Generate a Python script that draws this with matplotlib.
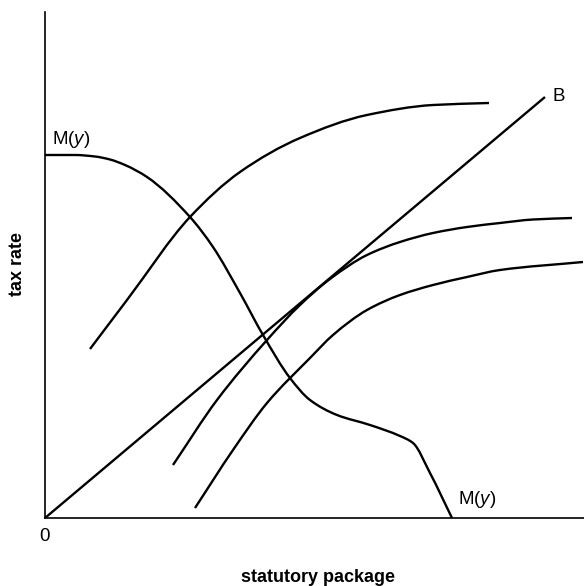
import matplotlib.pyplot as plt
from matplotlib.path import Path
from matplotlib.patches import PathPatch

# origin at the corner of the axes (units ~ pixels)
m_x = [0, 30, 50, 65, 80, 102, 145, 168, 195, 218, 245, 265, 292, 325, 355, 368, 385, 407]
m_y = [363, 363, 361.5, 358.5, 353, 341, 301, 271, 225, 183, 140, 118, 103, 93, 82, 75, 45, 0]

top_x = [45, 82, 145, 195, 255, 322, 388, 444]
top_y = [169, 218, 301, 346, 380, 403, 413, 415]

b_x = [0, 500]
b_y = [0, 421]

mid_x = [128, 172, 222, 255, 285, 322, 355, 388, 422, 455, 488, 527]
mid_y = [53, 118, 178, 213, 239, 263, 276, 285, 291, 295, 298.5, 300]

low_x = [150, 188, 222, 265, 288, 322, 355, 388, 422, 455, 538]
low_y = [10, 68, 115, 160, 183, 208, 223, 233, 241, 248, 256]


def smooth_path(xs, ys):
    # cubic bezier pieces through the read points, monotone (pchip style) slopes
    n = len(xs)
    h = [xs[i + 1] - xs[i] for i in range(n - 1)]
    d = [(ys[i + 1] - ys[i]) / h[i] for i in range(n - 1)]
    m = [d[0]]
    for i in range(1, n - 1):
        if d[i - 1] * d[i] <= 0:
            m.append(0.0)
        else:
            w1 = 2 * h[i] + h[i - 1]
            w2 = h[i] + 2 * h[i - 1]
            m.append((w1 + w2) / (w1 / d[i - 1] + w2 / d[i]))
    m.append(d[-1])
    verts = [(xs[0], ys[0])]
    codes = [Path.MOVETO]
    for i in range(n - 1):
        verts.append((xs[i] + h[i] / 3, ys[i] + m[i] * h[i] / 3))
        verts.append((xs[i + 1] - h[i] / 3, ys[i + 1] - m[i + 1] * h[i] / 3))
        verts.append((xs[i + 1], ys[i + 1]))
        codes += [Path.CURVE4] * 3
    return Path(verts, codes)


fig = plt.figure(figsize=(5.84, 5.86), dpi=100)
ax = fig.add_axes([45 / 584, 68 / 586, 539 / 584, 506 / 586])
ax.set_xlim(0, 539)
ax.set_ylim(0, 506)

lw = 1.7
for xs, ys in [(m_x, m_y), (top_x, top_y), (mid_x, mid_y), (low_x, low_y)]:
    ax.add_patch(PathPatch(smooth_path(xs, ys), fill=False, edgecolor='black',
                           linewidth=lw, capstyle='butt'))
ax.plot(b_x, b_y, color='black', linewidth=lw, solid_capstyle='butt')

for side in ['top', 'right']:
    ax.spines[side].set_visible(False)
for side in ['left', 'bottom']:
    ax.spines[side].set_linewidth(1.2)
ax.set_xticks([])
ax.set_yticks([])

plt.rcParams['mathtext.fontset'] = 'custom'
plt.rcParams['mathtext.it'] = 'Liberation Sans:italic'

lab = dict(family=['Liberation Sans', 'DejaVu Sans'], fontsize=13.5)
ax.text(7, 379, 'M($y$)', ha='left', va='center', **lab)
ax.text(413, 18, 'M($y$)', ha='left', va='center', **lab)
ax.text(508, 422, 'B', ha='left', va='center', **lab)
ax.text(-1, -10, '0', ha='center', va='top', **lab)

bold = dict(family=['Liberation Sans Narrow', 'Liberation Sans', 'DejaVu Sans'],
            fontsize=13, fontweight='bold')
fig.text(318 / 584, 1 - 577 / 586, 'statutory package', ha='center', va='center', **bold)
fig.text(18 / 584, 1 - 264 / 586, 'tax rate', ha='center', va='center', rotation=90, **bold)

fig.savefig('out.png', dpi=100)
